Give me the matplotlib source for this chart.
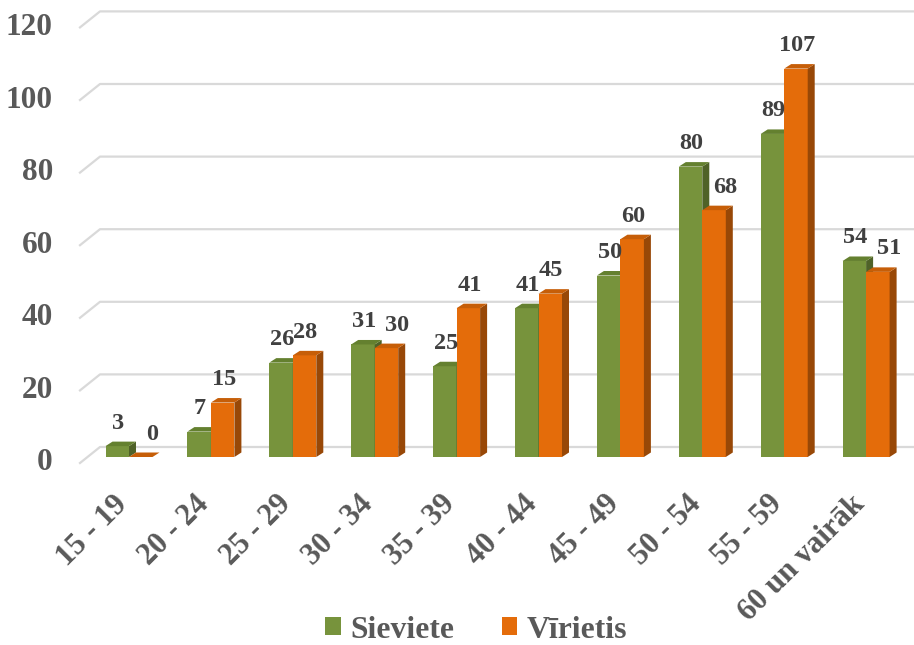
import numpy as np
import matplotlib.pyplot as plt
from matplotlib.patches import Polygon, Patch

categories = ["15 - 19", "20 - 24", "25 - 29", "30 - 34", "35 - 39",
              "40 - 44", "45 - 49", "50 - 54", "55 - 59", "60 un vairāk"]
sieviete = [3, 7, 26, 31, 25, 41, 50, 80, 89, 54]
virietis = [0, 15, 28, 30, 41, 45, 60, 68, 107, 51]
yticks = [0, 20, 40, 60, 80, 100, 120]

green = ("#77933C", "#4F6228", "#64802F")   # front, side, top
orange = ("#E46C0A", "#984807", "#C65E08")

plt.rcParams["font.family"] = ["Liberation Serif", "DejaVu Serif"]
plt.rcParams["font.weight"] = "bold"

W, H = 914, 645
fig = plt.figure(figsize=(W / 100, H / 100), dpi=100)

# front plane of the bars: 0 at y=457px, 72.6px per 20 units, groups 81.9px apart
px_x = 81.9
px_y = 72.6 / 20
x0_px = 129
ax = fig.add_axes([80 / W, (H - 457) / H, (W - 80) / W, 6 * 72.6 / H])
xmin = (80 - x0_px) / px_x
xmax = (W - x0_px) / px_x
ax.set_xlim(xmin, xmax)
ax.set_ylim(0, 120)
ax.axis("off")

# depth offsets in data units
back_dx, back_dy = 20 / px_x, 10 / px_y
front_dy = -6 / px_y
bar_dx, bar_dy = 7 / px_x, 4.5 / px_y
width = 23.5 / px_x

# gridlines on the back wall with the slanted floor edge on the left
for v in yticks:
    ax.plot([xmin, xmin + back_dx, xmax], [v + front_dy, v + back_dy, v + back_dy],
            color="#D9D9D9", lw=1.6, zorder=0, clip_on=False)
    ax.text(xmin - 27 / px_x, v + front_dy, str(v), ha="right", va="center",
            fontsize=22.5, color="#595959", clip_on=False)


def bar3d(xc, val, cols, z, shift=0.0):
    l, r = xc - width / 2, xc + width / 2
    ax.add_patch(Polygon([(l, 0), (r, 0), (r, val), (l, val)], closed=True,
                         facecolor=cols[0], edgecolor="none", zorder=z))
    ax.add_patch(Polygon([(r, 0), (r + bar_dx, bar_dy), (r + bar_dx, val + bar_dy), (r, val)],
                         closed=True, facecolor=cols[1], edgecolor="none", zorder=z))
    ax.add_patch(Polygon([(l, val), (r, val), (r + bar_dx, val + bar_dy), (l + bar_dx, val + bar_dy)],
                         closed=True, facecolor=cols[2], edgecolor="none", zorder=z))
    ax.text(xc + 1 / px_x + shift, val + 23 / px_y, str(val), ha="center", va="center",
            fontsize=17.5, color="#404040", zorder=30, clip_on=False)


x = np.arange(len(categories))
for i in range(len(categories)):
    bar3d(x[i] - width / 2, sieviete[i], green, 2 + 2 * i)
    # male label moves right when the female bar reaches it
    shift = 10 / px_x if sieviete[i] >= virietis[i] else 0.0
    bar3d(x[i] + width / 2, virietis[i], orange, 3 + 2 * i, shift)
    ax.text(x[i] - 6 / px_x, -43 / px_y, categories[i], rotation=45, rotation_mode="anchor",
            ha="right", va="center", fontsize=22, color="#595959", clip_on=False)

handles = [Patch(facecolor=green[0], label="Sieviete"),
           Patch(facecolor=orange[0], label="Vīrietis")]
fig.legend(handles=handles, loc="center", bbox_to_anchor=(476 / W, (H - 630) / H),
           ncol=2, frameon=False, fontsize=22.8, labelcolor="#595959",
           handlelength=0.5, handleheight=0.5, handletextpad=0.3, columnspacing=1.5)

fig.savefig("out.png", dpi=100)
